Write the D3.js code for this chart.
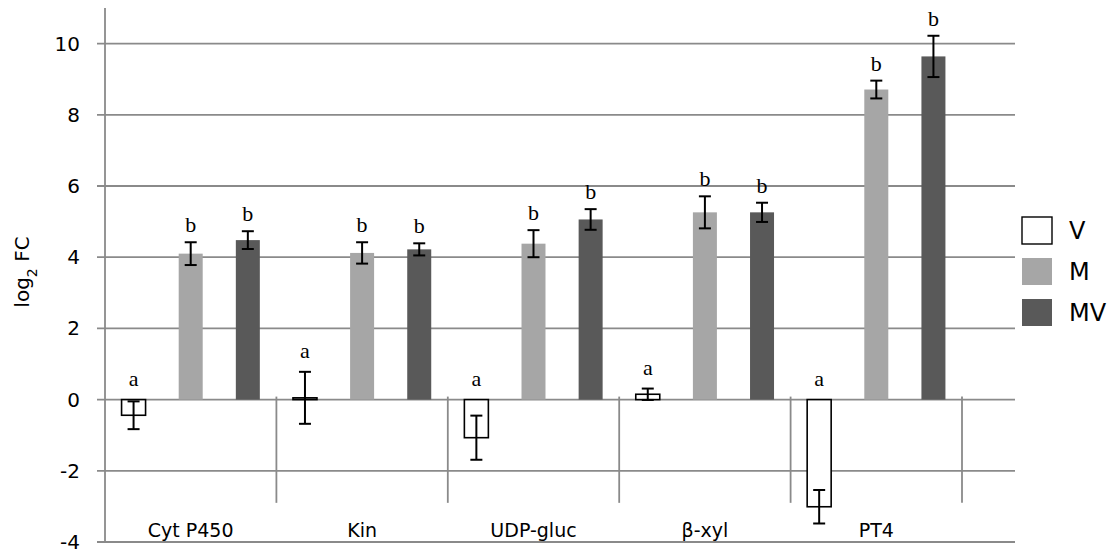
<!DOCTYPE html>
<html>
<head>
<meta charset="utf-8">
<script src="https://cdn.jsdelivr.net/npm/d3@7"></script>
<style>
  body { margin: 0; background: #fff; }
  svg { display: block; }
  text { font-family: "DejaVu Sans", sans-serif; fill: #000; }
</style>
</head>
<body>
<div id="chart"></div>
<script>
const W = 1114, H = 558;

const categories = ["Cyt P450", "Kin", "UDP-gluc", "β-xyl", "PT4"];
const series = ["V", "M", "MV"];
const valuesV  = [-0.44, 0.05, -1.07, 0.15, -3.01];
const errV     = [0.39, 0.73, 0.62, 0.16, 0.47];
const valuesM  = [4.10, 4.12, 4.38, 5.26, 8.71];
const errM     = [0.32, 0.30, 0.38, 0.45, 0.25];
const valuesMV = [4.48, 4.22, 5.06, 5.26, 9.64];
const errMV    = [0.25, 0.17, 0.29, 0.27, 0.58];
const letters  = { V: "a", M: "b", MV: "b" };
const yTicks   = [-4, -2, 0, 2, 4, 6, 8, 10];

const fills = { V: "#ffffff", M: "#a6a6a6", MV: "#595959" };
const gridColor = "#8a8a8a";

var svg = d3.select("#chart").append("svg")
    .attr("width", W)
    .attr("height", H);

var y = d3.scaleLinear().domain([-4, 11]).range([542, 8]);
var x = d3.scaleBand().domain(categories).range([105, 962]).padding(0);
var xs = d3.scaleBand().domain(series).range([0, x.bandwidth()])
    .paddingInner(0.58).paddingOuter(0.29);

var vals = { V: valuesV, M: valuesM, MV: valuesMV };
var errs = { V: errV, M: errM, MV: errMV };

var data = [];
categories.forEach((c, i) => {
    series.forEach(s => {
        data.push({ cat: c, s: s, v: vals[s][i], e: errs[s][i] });
    });
});

// gridlines
svg.append("g").selectAll("line").data(yTicks)
    .enter().append("line")
    .attr("x1", 97).attr("x2", 1015)
    .attr("y1", d => y(d)).attr("y2", d => y(d))
    .attr("stroke", gridColor).attr("stroke-width", 1.8);

// y axis line
svg.append("line")
    .attr("x1", 105).attr("x2", 105)
    .attr("y1", y(11)).attr("y2", y(-4))
    .attr("stroke", gridColor).attr("stroke-width", 1.8);

// category separators hanging below zero
svg.append("g").selectAll("line").data(categories.slice(1).concat([null]))
    .enter().append("line")
    .attr("x1", d => d ? x(d) : x.range()[1])
    .attr("x2", d => d ? x(d) : x.range()[1])
    .attr("y1", y(0) - 3).attr("y2", y(-2.9))
    .attr("stroke", gridColor).attr("stroke-width", 1.8);

// y tick labels
svg.append("g").selectAll("text").data(yTicks)
    .enter().append("text")
    .attr("x", 80).attr("y", d => y(d))
    .attr("text-anchor", "end")
    .attr("dominant-baseline", "central")
    .style("font-size", "20px")
    .text(d => d);

// y title
var yt = svg.append("text")
    .attr("transform", "translate(29,272) rotate(-90)")
    .attr("text-anchor", "middle")
    .style("font-size", "20px");
yt.append("tspan").text("log");
yt.append("tspan").attr("baseline-shift", "sub").style("font-size", "14px").text("2");
yt.append("tspan").text(" FC");

// bars
svg.append("g").selectAll("rect").data(data)
    .enter().append("rect")
    .attr("x", d => x(d.cat) + xs(d.s))
    .attr("width", xs.bandwidth())
    .attr("y", d => y(Math.max(0, d.v)))
    .attr("height", d => Math.abs(y(d.v) - y(0)))
    .attr("fill", d => fills[d.s])
    .attr("stroke", d => d.s == "V" ? "#000" : "none")
    .attr("stroke-width", 1.6);

// error bars
var eb = svg.append("g").selectAll("g").data(data)
    .enter().append("g")
    .attr("stroke", "#000").attr("stroke-width", 2);
var cx = d => x(d.cat) + xs(d.s) + xs.bandwidth() / 2;
eb.append("line")
    .attr("x1", cx).attr("x2", cx)
    .attr("y1", d => y(d.v + d.e)).attr("y2", d => y(d.v - d.e));
eb.append("line")
    .attr("x1", d => cx(d) - 6).attr("x2", d => cx(d) + 6)
    .attr("y1", d => y(d.v + d.e)).attr("y2", d => y(d.v + d.e));
eb.append("line")
    .attr("x1", d => cx(d) - 6).attr("x2", d => cx(d) + 6)
    .attr("y1", d => y(d.v - d.e)).attr("y2", d => y(d.v - d.e));

// significance letters
svg.append("g").selectAll("text").data(data)
    .enter().append("text")
    .attr("x", cx)
    .attr("y", d => y(Math.max(0, d.v + d.e)) - (letters[d.s] == "a" ? 14 : 10))
    .attr("text-anchor", "middle")
    .style("font-family", "'Liberation Serif', serif")
    .style("font-size", "22px")
    .text(d => letters[d.s]);

// category labels
svg.append("g").selectAll("text").data(categories)
    .enter().append("text")
    .attr("x", d => x(d) + x.bandwidth() / 2)
    .attr("y", 537)
    .attr("text-anchor", "middle")
    .style("font-size", "19px")
    .text(d => d);

// legend
var lg = svg.append("g").selectAll("g").data(series)
    .enter().append("g")
    .attr("transform", (d, i) => "translate(1022," + (217 + i * 41) + ")");
lg.append("rect")
    .attr("width", 30).attr("height", 27)
    .attr("fill", d => fills[d])
    .attr("stroke", d => d == "V" ? "#000" : "none")
    .attr("stroke-width", 1.4);
lg.append("text")
    .attr("x", 47).attr("y", 14)
    .attr("dominant-baseline", "central")
    .style("font-size", "24px")
    .text(d => d);
</script>
</body>
</html>
